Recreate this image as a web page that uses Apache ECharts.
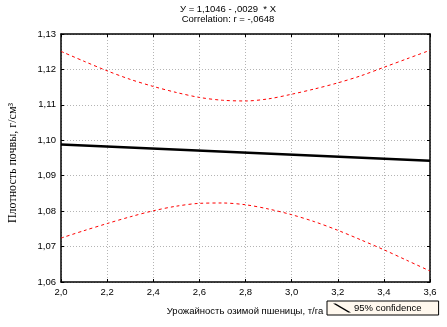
<!DOCTYPE html>
<html>
<head>
<meta charset="utf-8">
<script src="https://cdn.jsdelivr.net/npm/echarts@6/dist/echarts.min.js"></script>
<style>html,body{margin:0;padding:0;background:#fff;}#c{width:447px;height:327px;}</style>
</head>
<body>
<div id="c"></div>
<script>
// Data
const xValues = [2.0, 2.1, 2.2, 2.3, 2.4, 2.5, 2.6, 2.7, 2.8, 2.9, 3.0, 3.1, 3.2, 3.3, 3.4, 3.5, 3.6];
const upperBand = [1.1251, 1.1223, 1.1196, 1.1172, 1.1152, 1.1135, 1.1121, 1.1113, 1.1111, 1.1117, 1.1130, 1.1145, 1.1162, 1.1182, 1.1206, 1.1230, 1.1254];
const lowerBand = [1.0724, 1.0745, 1.0765, 1.0784, 1.0801, 1.0814, 1.0822, 1.0823, 1.0818, 1.0806, 1.0790, 1.0770, 1.0746, 1.0719, 1.0691, 1.0661, 1.0631];
const fitX = [2.0, 3.6];
const fitY = [1.0988, 1.0942];

const titleLine1 = 'У = 1,1046 - ,0029  * X';
const titleLine2 = 'Correlation: r = -,0648';
const xTitle = 'Урожайность озимой пшеницы, т/га';
const yTitle = 'Плотность почвы, г/см³';
const legendLabel = '95% confidence';

const pair = (xs, ys) => xs.map((x, i) => [x, ys[i]]);
const comma = (v, d) => v.toFixed(d).replace('.', ',');

const chart = echarts.init(document.getElementById('c'), null, {renderer: 'canvas'});
const FONT = '"Liberation Sans", Arial, sans-serif';
const axisFont = {fontFamily: FONT, fontSize: 9.5, color: '#000'};
const gridLine = {show: true, lineStyle: {color: '#b4b4b4', type: [1, 2], width: 1}};

chart.setOption({
  animation: false,
  backgroundColor: '#fff',
  grid: {left: 61, right: 17, top: 34, bottom: 45, containLabel: false},
  legend: {
    left: 327, top: 301,
    data: [{name: legendLabel}],
    icon: 'path://M0,0 L3,0 L20,10 L17,10 Z',
    itemWidth: 18, itemHeight: 9,
    itemGap: 4,
    padding: [2, 17, 2, 6],
    backgroundColor: '#fff8ee',
    borderColor: '#000', borderWidth: 1, borderRadius: 0,
    textStyle: {fontFamily: FONT, fontSize: 9.5, color: '#000', padding: [0,0,0,-2]}
  },
  xAxis: [{
    type: 'value', min: 2.0, max: 3.6, interval: 0.2,
    axisLine: {show: true, onZero: false, lineStyle: {color: '#000', width: 1.5}},
    axisTick: {show: true, inside: true, length: 3, lineStyle: {color: '#000'}},
    axisLabel: Object.assign({margin: 5, formatter: v => comma(v, 1)}, axisFont),
    splitLine: gridLine
  }, {
    type: 'value', position: 'top', min: 2.0, max: 3.6, interval: 0.2,
    axisLine: {show: true, lineStyle: {color: '#000', width: 1.5}},
    axisTick: {show: true, inside: true, length: 3, lineStyle: {color: '#000'}},
    axisLabel: {show: false}, splitLine: {show: false}
  }],
  yAxis: [{
    type: 'value', min: 1.06, max: 1.13, interval: 0.01,
    axisLine: {show: true, onZero: false, lineStyle: {color: '#000', width: 1.5}},
    axisTick: {show: true, inside: true, length: 3, lineStyle: {color: '#000'}},
    axisLabel: Object.assign({margin: 5, formatter: v => comma(v, 2)}, axisFont),
    splitLine: gridLine
  }, {
    type: 'value', position: 'right', min: 1.06, max: 1.13, interval: 0.01,
    axisLine: {show: true, lineStyle: {color: '#000', width: 1.5}},
    axisTick: {show: true, inside: true, length: 3, lineStyle: {color: '#000'}},
    axisLabel: {show: false}, splitLine: {show: false}
  }],
  graphic: [
    {type: 'text', style: {text: titleLine1, x: 228, y: 4, align: 'center', font: '9.5px ' + FONT, fill: '#000'}},
    {type: 'text', style: {text: titleLine2, x: 228, y: 14, align: 'center', font: '9.5px ' + FONT, fill: '#000'}},
    {type: 'text', style: {text: xTitle, x: 245, y: 306, align: 'center', font: '9.5px ' + FONT, fill: '#000'}},
    {type: 'text', x: 13, y: 163, rotation: Math.PI / 2,
     style: {text: yTitle, x: 0, y: 0, align: 'center', verticalAlign: 'middle', font: '12px "Liberation Serif", "Times New Roman", serif', fill: '#000'}}
  ],
  series: [
    {name: 'upper', type: 'line', data: pair(xValues, upperBand), showSymbol: false, smooth: 0.3,
     lineStyle: {color: '#ff0000', width: 1, type: [3, 3]}, silent: true},
    {name: 'lower', type: 'line', data: pair(xValues, lowerBand), showSymbol: false, smooth: 0.3,
     lineStyle: {color: '#ff0000', width: 1, type: [3, 3]}, silent: true},
    {name: legendLabel, type: 'line', data: pair(fitX, fitY), showSymbol: false,
     itemStyle: {color: '#000'}, lineStyle: {color: '#000', width: 2.5}, silent: true}
  ]
});
</script>
</body>
</html>
